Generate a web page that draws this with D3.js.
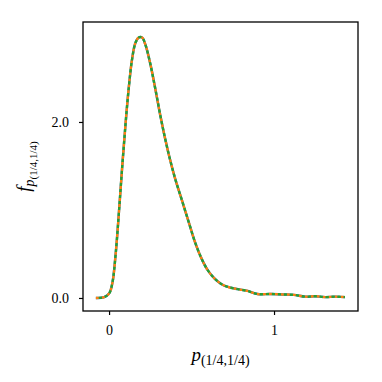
<!DOCTYPE html>
<html>
<head>
<meta charset="utf-8">
<script src="https://cdn.jsdelivr.net/npm/d3@7"></script>
<style>
  body { margin: 0; background: #fff; }
  text { font-family: "Liberation Serif", "DejaVu Serif", serif; }
</style>
</head>
<body>
<svg id="chart" width="382" height="382"></svg>
<script>
// density estimate
var xs = [-0.08, -0.03, 0.0, 0.02, 0.04, 0.06, 0.08, 0.1, 0.12, 0.14, 0.16, 0.18, 0.2, 0.22, 0.25,
          0.28, 0.31, 0.34, 0.37, 0.4, 0.44, 0.48, 0.52, 0.56, 0.6, 0.64, 0.68, 0.72, 0.78,
          0.84, 0.9, 0.98, 1.05, 1.12, 1.19, 1.25, 1.31, 1.37, 1.43];
var ys = [0.0, 0.01, 0.05, 0.17, 0.5, 0.98, 1.5, 1.98, 2.4, 2.72, 2.9, 2.96, 2.96, 2.88, 2.66,
          2.38, 2.08, 1.81, 1.57, 1.36, 1.12, 0.88, 0.64, 0.45, 0.31, 0.22, 0.16, 0.125, 0.1,
          0.08, 0.045, 0.045, 0.04, 0.035, 0.015, 0.02, 0.01, 0.015, 0.01];
var xTicks = [0, 1];
var yTicks = [0, 2];
var series = [
  { name: "a", color: "#1f77b4", dash: null, offset: 0 },
  { name: "b", color: "#ff7f0e", dash: "3,3", offset: 0 },
  { name: "c", color: "#2ca02c", dash: "3,3", offset: 3 }
];

var svg = d3.select("#chart");
var padL = 83, padR = 358, padT = 22, padB = 311;

var x = d3.scaleLinear().domain([-0.158, 1.509]).range([padL, padR]);
var y = d3.scaleLinear().domain([-0.148, 3.136]).range([padB, padT]);

var pts = xs.map(function(v, i) { return [v, ys[i]]; });
var line = d3.line()
  .x(function(d) { return x(d[0]); })
  .y(function(d) { return y(d[1]); })
  .curve(d3.curveCatmullRom);

svg.selectAll("path.curve")
  .data(series)
  .enter().append("path")
  .attr("class", "curve")
  .attr("d", line(pts))
  .attr("fill", "none")
  .attr("stroke", function(d) { return d.color; })
  .attr("stroke-width", 2.4)
  .attr("stroke-dasharray", function(d) { return d.dash; })
  .attr("stroke-dashoffset", function(d) { return d.offset; });

var xAxis = d3.axisBottom(x).tickValues(xTicks).tickFormat(d3.format("d")).tickSize(4).tickPadding(10);
var yAxis = d3.axisLeft(y).tickValues(yTicks).tickFormat(d3.format(".1f")).tickSize(4).tickPadding(10);

var gx = svg.append("g").attr("transform", "translate(0," + padB + ")").call(xAxis);
var gy = svg.append("g").attr("transform", "translate(" + padL + ",0)").call(yAxis);
[gx, gy].forEach(function(g) {
  g.select(".domain").remove();
  g.selectAll(".tick line").attr("stroke", "#000").attr("stroke-width", 1.2);
  g.selectAll(".tick text").attr("font-size", 14).attr("fill", "#000")
    .style("font-family", "'Liberation Serif', serif");
});

svg.append("rect")
  .attr("x", padL).attr("y", padT)
  .attr("width", padR - padL).attr("height", padB - padT)
  .attr("fill", "none").attr("stroke", "#000").attr("stroke-width", 1.3);

// x label
var xl = svg.append("text")
  .attr("x", (padL + padR) / 2).attr("y", 361)
  .attr("text-anchor", "middle").attr("font-size", 19);
xl.append("tspan").attr("font-style", "italic").text("p");
xl.append("tspan").attr("font-size", 14).attr("dy", 4).text("(1/4,1/4)");

// y label
var yl = svg.append("text")
  .attr("transform", "translate(30," + ((padT + padB) / 2) + ") rotate(-90)")
  .attr("text-anchor", "middle").attr("font-size", 19);
yl.append("tspan").attr("font-style", "italic").text("f");
yl.append("tspan").attr("font-style", "italic").attr("font-size", 14).attr("dy", 4).text("p");
yl.append("tspan").attr("font-size", 11).attr("dy", 3).text("(1/4,1/4)");
</script>
</body>
</html>
